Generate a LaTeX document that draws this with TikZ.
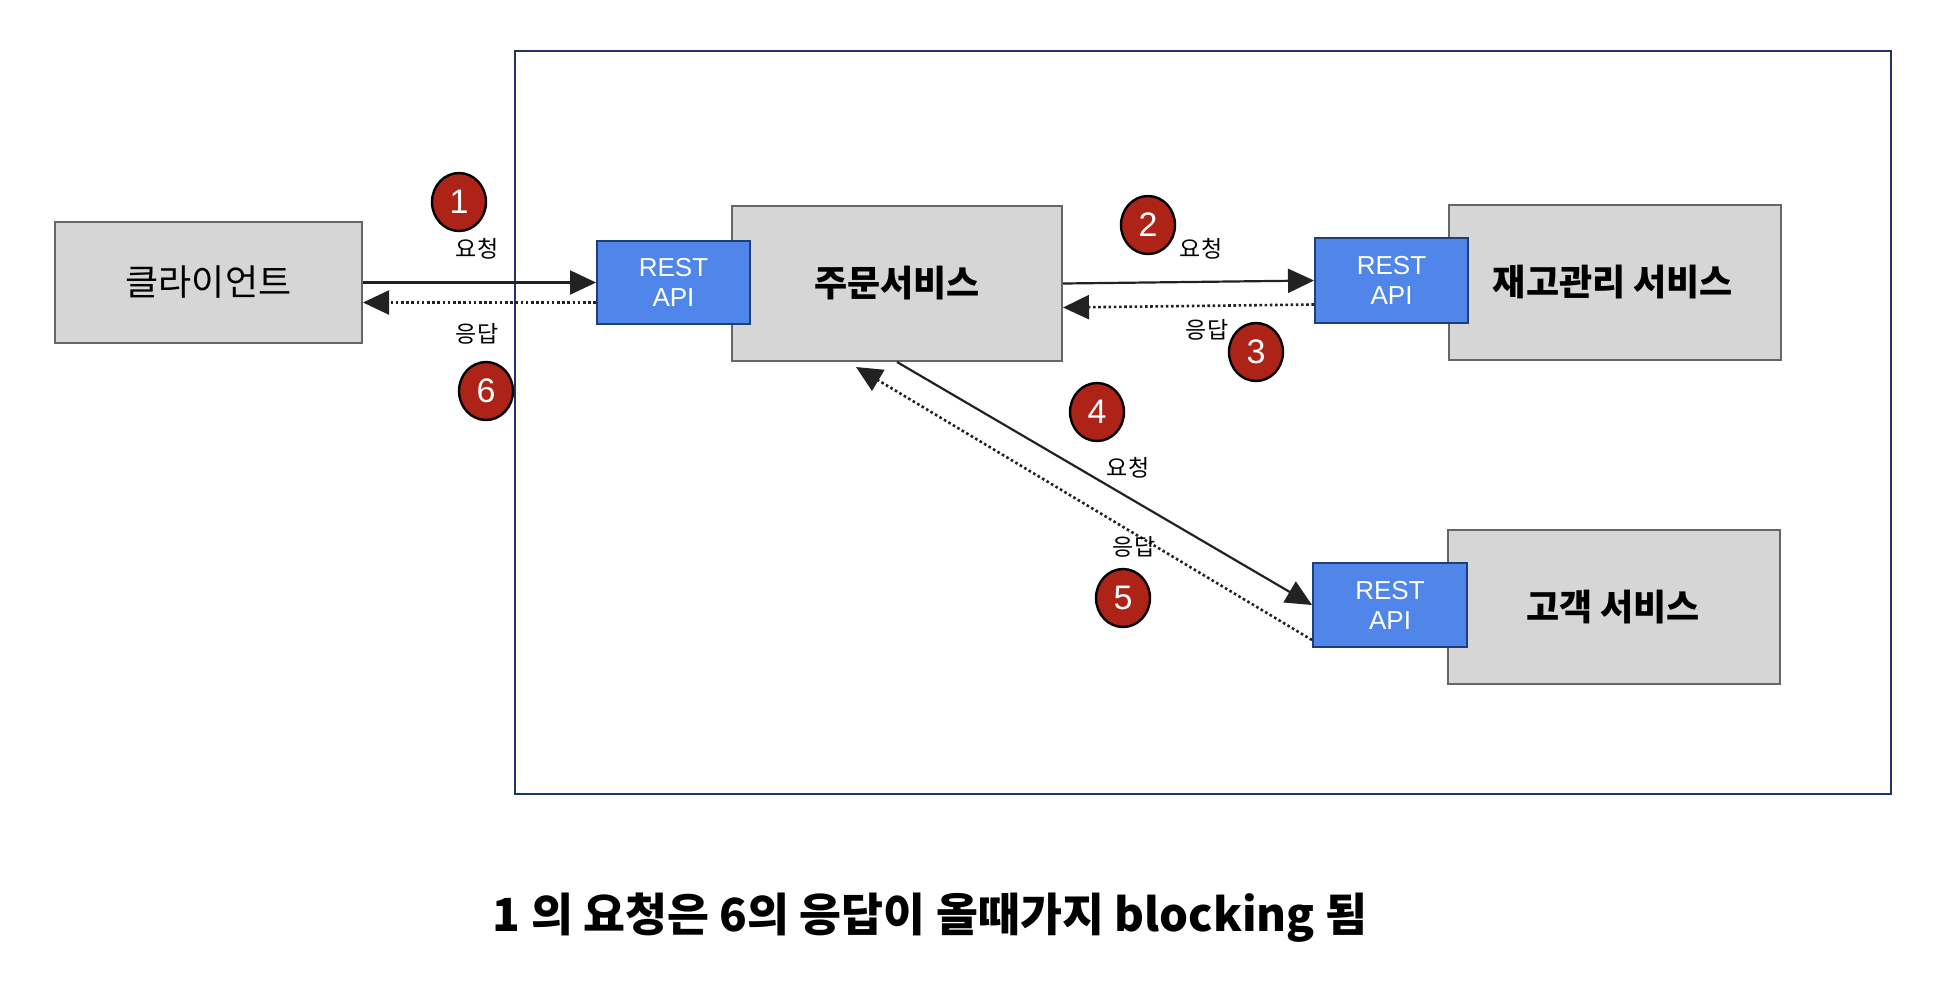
\documentclass[tikz,border=0pt]{standalone}
\usepackage{fontspec}
\setmainfont{Noto Sans CJK KR}
\newfontfamily\arialf{Liberation Sans}
\usetikzlibrary{arrows.meta,calc,shapes.geometric}
\definecolor{boxgray}{HTML}{D6D6D6}
\definecolor{boxline}{HTML}{666666}
\definecolor{restblue}{HTML}{5086EA}
\definecolor{restline}{HTML}{1F3F7A}
\definecolor{framenavy}{HTML}{1F3564}
\definecolor{badgered}{HTML}{AD2318}
\definecolor{arrowc}{HTML}{222222}
\tikzset{
  svcbox/.style={draw=boxline, fill=boxgray, line width=1pt, inner sep=0pt},
  restbox/.style={draw=restline, fill=restblue, line width=1pt, inner sep=0pt,
    text=white, font=\arialf\fontsize{13}{15}\selectfont, align=center},
  badge/.style={ellipse, draw=black, fill=badgered, line width=1.2pt, inner sep=0pt,
    minimum width=27pt, minimum height=29pt, text=white, font=\arialf\fontsize{17}{19}\selectfont},
  lbl/.style={font=\fontsize{11.5}{13}\selectfont, inner sep=0pt},
  req/.style={draw=arrowc, line width=1.1pt, -{Triangle[length=13pt,width=12pt]}},
  resp/.style={draw=arrowc, line width=1.3pt, dash pattern=on 1.3pt off 1.3pt, -{Triangle[length=13pt,width=12pt]}},
}
\begin{document}
\begin{tikzpicture}[x=0.5pt,y=-0.5pt]
\useasboundingbox (0,0) rectangle (1946,992);
% outer frame
\node[draw=framenavy, line width=1.2pt, minimum width=688pt, minimum height=371.5pt, inner sep=0pt] (frame) at (1203,422.5) {};
% services
\node[svcbox, minimum width=153.5pt, minimum height=60.5pt, font=\fontsize{18}{22}\selectfont] (client) at (208.5,282.5) {클라이언트};
\node[svcbox, minimum width=165pt, minimum height=77.5pt, font=\bfseries\fontsize{18}{22}\selectfont] (order) at (897,283.5) {주문서비스};
\node[svcbox, minimum width=166pt, minimum height=77.5pt] (stock) at (1615,282.5) {};
\node[font=\bfseries\fontsize{18}{22}\selectfont] (stocktxt) at (1613,282.5) {재고관리 서비스};
\node[svcbox, minimum width=166pt, minimum height=77pt] (cust) at (1614,607) {};
\node[font=\bfseries\fontsize{18}{22}\selectfont] (custtxt) at (1613,607) {고객 서비스};
% REST API boxes
\node[restbox, minimum width=76.5pt, minimum height=41.5pt] (rest1) at (673.5,282.5) {REST\\API};
\node[restbox, minimum width=76.5pt, minimum height=42.5pt] (rest2) at (1391.5,280.5) {REST\\API};
\node[restbox, minimum width=77pt, minimum height=42pt] (rest3) at (1390,605) {REST\\API};
% connectors
\draw[req] (client.east) -- (rest1.west);
\draw[resp] ([yshift=-10pt]rest1.west) -- ([yshift=-10pt]client.east);
\draw[req] (order.east) -- (rest2.west);
\draw[resp] ([yshift=-12pt]rest2.west) -- ([yshift=-12pt]order.east);
\draw[req] (order.south) -- (rest3.west);
\draw[resp] ([yshift=-17.5pt]rest3.west) -- ([xshift=-20.5pt,yshift=-2.5pt]order.south);
% labels
\node[lbl] (l1) at (477,249) {요청};
\node[lbl] (l6) at (477,334) {응답};
\node[lbl] (l2) at (1201,249) {요청};
\node[lbl] (l3) at (1207,330) {응답};
\node[lbl] (l4) at (1128,468) {요청};
\node[lbl] (l5) at (1134,547) {응답};
% badges
\node[badge] (b1) at (459,202) {1};
\node[badge] (b2) at (1148,225) {2};
\node[badge] (b3) at (1256,352) {3};
\node[badge] (b4) at (1097,412) {4};
\node[badge] (b5) at (1123,598) {5};
\node[badge] (b6) at (486,391) {6};
% caption
\node[font=\bfseries\fontsize{22.8}{27}\selectfont] (caption) at (930,918) {1 의 요청은 6의 응답이 올때가지 blocking 됨};
\end{tikzpicture}
\end{document}
